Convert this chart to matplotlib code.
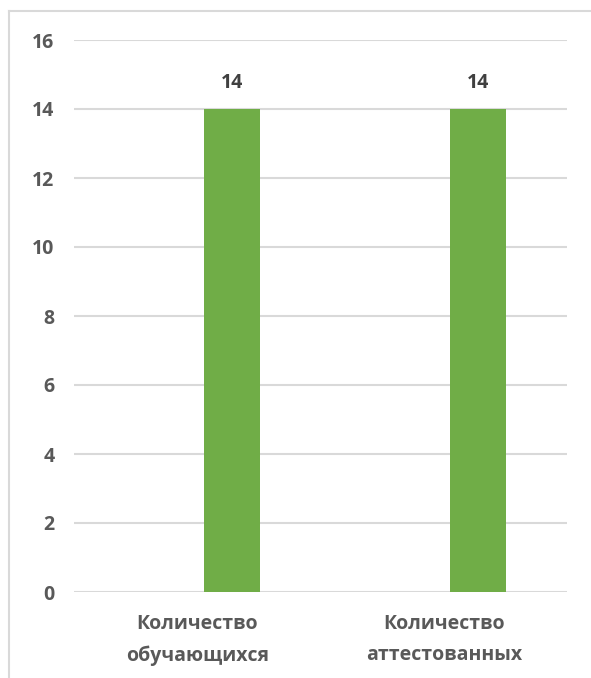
import numpy as np
import matplotlib.pyplot as plt
from matplotlib.lines import Line2D

# Data
categories = ['Количество\nобучающихся', 'Количество\nаттестованных']
values = [14, 14]
y_ticks = [0, 2, 4, 6, 8, 10, 12, 14, 16]

plt.rcParams['font.family'] = ['Open Sans', 'DejaVu Sans']

fig = plt.figure(figsize=(5.91, 6.78), dpi=100)
ax = fig.add_axes([74/591, 1-592/678, (567-74)/591, (592-40)/678])

x = np.arange(len(categories))
offset = 0.14
bars = ax.bar(x + offset, values, width=0.227, color='#70AD47', zorder=3)

for b, v in zip(bars, values):
    ax.text(b.get_x() + b.get_width()/2, v + 0.45, str(v), ha='center', va='bottom',
            fontsize=14, fontweight='bold', color='#404040')

ax.set_xlim(-0.5, 1.5)
ax.set_ylim(0, 16)
ax.set_yticks(y_ticks)
ax.set_yticklabels([str(t) for t in y_ticks], fontsize=14, fontweight='bold', color='#595959')
ax.set_xticks(x)
ax.set_xticklabels(categories, fontsize=14, fontweight='bold', color='#595959', linespacing=1.7)
ax.tick_params(length=0, pad=16)
ax.tick_params(axis='y', pad=14)
ax.grid(axis='y', color='#D9D9D9', linewidth=1.5, zorder=0)
for s in ax.spines.values():
    s.set_visible(False)

# outer chart border
fig.add_artist(Line2D([9/591, 1], [1-11/678, 1-11/678], color='#D9D9D9', linewidth=1.5))
fig.add_artist(Line2D([9/591, 9/591], [0, 1-11/678], color='#D9D9D9', linewidth=1.5))

fig.savefig('out.png', dpi=100)
